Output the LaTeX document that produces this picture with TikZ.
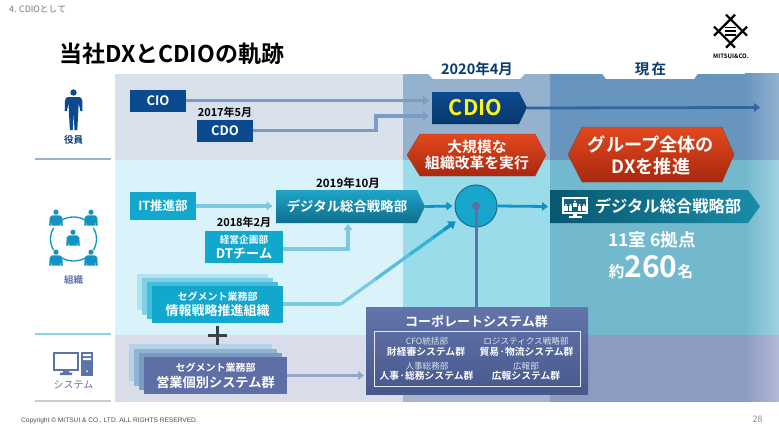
\documentclass[tikz,border=0pt]{standalone}
\usepackage{fontspec}
\setmainfont{Noto Sans CJK JP}[BoldFont={Noto Sans CJK JP Bold}]
\newfontfamily\latinfont{Liberation Sans}
\usetikzlibrary{arrows.meta,calc}
\definecolor{navy}{HTML}{0B4A8F}
\definecolor{cyanbox}{HTML}{12A7CD}
\definecolor{slatebox}{HTML}{5D6FA5}
\definecolor{cioline}{HTML}{7B9CC4}
\definecolor{itline}{HTML}{7CCAE2}
\definecolor{hubline}{HTML}{5B74A8}
\newcommand{\fz}[1]{\fontsize{#1}{#1}\selectfont}
\newcommand{\bx}[7]{\node[boxnode,#6,minimum width={(#4-#2)*1pt},minimum height={(#5-#3)*1pt}] (#1) at ({(#2+#4)/2},{(#3+#5)/2}) {#7};}
\tikzset{
  boxnode/.style={inner sep=0pt,outer sep=0pt,align=center,text=white,font=\bfseries},
  whitetxt/.style={inner sep=0pt,text=white,align=center,font=\bfseries},
  darktxt/.style={inner sep=0pt,text=black,align=center,font=\bfseries},
  flow/.style={line width=3.3pt,-{Triangle[length=6pt,width=9pt]}},
  divider/.style={line width=1.6pt},
  arcline/.style={line width=1.3pt,color=#1},
}
\begin{document}
\begin{tikzpicture}[x=1pt,y=-1pt,line join=miter]
\useasboundingbox (0,0) rectangle (779,436);
\fill[white] (0,0) rectangle (779,436);
% panels
\fill[fill={rgb,255:red,216;green,224;blue,236}] (115,74) rectangle (403,160);
\fill[fill={rgb,255:red,148;green,178;blue,206}] (403,74) rectangle (550,160);
\fill[fill={rgb,255:red,104;green,149;blue,189}] (550,74) rectangle (745,160);
\shade[left color={rgb,255:red,104;green,149;blue,189},right color={rgb,255:red,145;green,178;blue,208}] (745,74) rectangle (779,160);
\fill[fill={rgb,255:red,218;green,243;blue,250}] (115,160) rectangle (403,335);
\fill[fill={rgb,255:red,155;green,220;blue,235}] (403,160) rectangle (550,335);
\fill[fill={rgb,255:red,115;green,185;blue,205}] (550,160) rectangle (745,335);
\shade[left color={rgb,255:red,115;green,185;blue,205},right color={rgb,255:red,160;green,210;blue,225}] (745,160) rectangle (779,335);
\fill[fill={rgb,255:red,216;green,221;blue,233}] (115,335) rectangle (403,401.5);
\fill[fill={rgb,255:red,169;green,179;blue,207}] (403,335) rectangle (550,401.5);
\fill[fill={rgb,255:red,142;green,155;blue,192}] (550,335) rectangle (745,401.5);
\shade[left color={rgb,255:red,142;green,155;blue,192},right color={rgb,255:red,178;green,187;blue,216}] (745,335) rectangle (779,401.5);
% header tabs
\fill[white] (428,73.5) -- (525,73.5) -- (520,79) -- (433,79) -- cycle;
\fill[white] (602,73.5) -- (698,73.5) -- (694,79) -- (606,79) -- cycle;
% dividers
\draw[divider,color={rgb,255:red,159;green,176;blue,205}] (35,159) -- (111,159);
\draw[divider,color={rgb,255:red,143;green,208;blue,227}] (35,334) -- (111,334);
\draw[divider,color={rgb,255:red,200;green,204;blue,212}] (35,401) -- (111,401);
% header texts
\node[inner sep=0pt,anchor=west,text=black!55,font=\fz{8.8}] (sect) at (9,9) {4. CDIOとして};
\node[inner sep=0pt,anchor=west,text=black,font=\fz{23}\bfseries] (title) at (59,54) {当社DXとCDIOの軌跡};
\node[inner sep=0pt,text=navy!80!black,font=\fz{14.5}\bfseries] (d2020) at (477,69) {2020年4月};
\node[inner sep=0pt,text=navy!80!black,font=\fz{14.5}\bfseries] (now) at (650.5,69) {現\,在};
\node[inner sep=0pt,anchor=west,text=black!70,font=\latinfont\fz{6.6}] (copy) at (21,421) {Copyright © MITSUI \& CO., LTD. ALL RIGHTS RESERVED.};
\node[inner sep=0pt,text=black!45,font=\fz{9}] (page) at (757.5,419.5) {28};
% logo
\begin{scope}[line width=2.2pt,black]
\draw (726,14.7) -- (747,35.7) (735,14.7) -- (714,35.7);
\draw (726,47.7) -- (747,26.7) (735,47.7) -- (714,26.7);
\draw[line width=1.7pt] (725,27.6) -- (736,27.6) (725,31.2) -- (736,31.2) (725,34.8) -- (736,34.8);
\end{scope}
\node[inner sep=0pt,text=black,font=\fz{6}\bfseries] (logotxt) at (731,56) {MITSUI\&CO.};
% person icon
\fill[navy] (73.5,92.5) circle (3.2);
\fill[navy] (68,97) -- (79,97) .. controls (81,97) and (82,98.5) .. (82.3,101) -- (82.5,111) -- (80.3,111) -- (78.7,103) -- (78.3,112) -- (77.3,130) -- (74.5,130) -- (73.6,113) -- (72.7,130) -- (69.9,130) -- (68.9,112) -- (68.5,103) -- (66.9,111) -- (64.7,111) -- (65,101) .. controls (65.3,98.5) and (66,97) .. (68,97) -- cycle;
\node[inner sep=0pt,text=navy!80!black,font=\fz{9.5}\bfseries] (lbl1) at (73.5,139.5) {役員};
% group icon
\begin{scope}[color=cyanbox!80!navy]
\draw[arcline=cyanbox!80!navy] (73.5,239) ++(60:23 and 22) arc[start angle=60,end angle=120,x radius=23,y radius=22];
\draw[arcline=cyanbox!80!navy] (73.5,239) ++(240:23 and 22) arc[start angle=240,end angle=300,x radius=23,y radius=22];
\draw[arcline=cyanbox!80!navy] (73.5,239) ++(150:23 and 22) arc[start angle=150,end angle=210,x radius=23,y radius=22];
\draw[arcline=cyanbox!80!navy] (73.5,239) ++(-30:23 and 22) arc[start angle=-30,end angle=30,x radius=23,y radius=22];
\foreach \px/\py in {56/219.5,91/219.5,73/239.5,56/259.5,91/259.5}{
  \fill (\px,\py-7.3) circle (2.6);
  \fill (\px-4,\py-4.2) -- (\px+4,\py-4.2) -- (\px+6.3,\py-2) -- (\px+6.8,\py+6) -- (\px+4.8,\py+6) -- (\px+4.2,\py+1) -- (\px+4,\py+6) -- (\px-4,\py+6) -- (\px-4.2,\py+1) -- (\px-4.8,\py+6) -- (\px-6.8,\py+6) -- (\px-6.3,\py-2) -- cycle;
}
\end{scope}
\node[inner sep=0pt,text=hubline,font=\fz{9.5}\bfseries] (lbl2) at (73.5,279.5) {組織};
% system icon
\draw[line width=1.9pt,hubline] (54,353) rectangle (78,370);
\fill[hubline] (60,375) -- (72,375) -- (72,372.5) -- (69,372.5) -- (69,370) -- (63,370) -- (63,372.5) -- (60,372.5) -- cycle;
\fill[hubline] (81,352) rectangle (93,375.5);
\fill[white] (83,354) rectangle (91,356) (83,358) rectangle (91,360);
\fill[white] (87,371) circle (1);
\node[inner sep=0pt,text=hubline,font=\fz{10}] (lbl3) at (73.5,384.5) {システム};
% officers row
\bx{cio}{130}{89.5}{186}{112}{fill=navy,font=\fz{13}\bfseries}{CIO}
\bx{cdo}{197}{119.5}{253}{142}{fill=navy,font=\fz{13}\bfseries}{CDO}
\node[darktxt,font=\fz{11}\bfseries] (d2017) at (225,112) {2017年5月};
% CDIO
\shade[top color=navy,bottom color=navy!75!black] (432,92) -- (519,92) -- (527,107.5) -- (519,124) -- (432,124) -- cycle;
\bx{cdio}{432}{92}{527}{124}{font=\fz{21.5}\bfseries,text=yellow!90!white}{CDIO\hspace*{8pt}}
\coordinate (cdioend) at (760,107.5);
\coordinate (mergeA) at (376,130.5);
\coordinate (mergeB) at (376,116);
\coordinate (cdioin) at (429,116);
\coordinate (cioin) at (429,100.5);
\draw[flow,cioline] (cio.east) -- (cio.east -| cioin);
\draw[flow,cioline] (cdo.east) -- (cdo.east -| mergeA) -- (mergeB) -- (cdioin);
\draw[line width=2.8pt,-{Triangle[length=6pt,width=8.5pt]},navy!85!white] (cdio.east) -- (cdioend);
% red banners
\shade[top color={rgb,255:red,226;green,72;blue,30},bottom color={rgb,255:red,168;green,40;blue,16},draw={rgb,255:red,150;green,60;blue,40}] (420,134) -- (535,134) -- (546,155) -- (535,176) -- (420,176) -- (407,155) -- cycle;
\node[whitetxt,font=\fz{14.8}\bfseries] (bannerA) at (477,155) {大規模な\\[2pt]組織改革を実行};
\shade[top color={rgb,255:red,226;green,72;blue,30},bottom color={rgb,255:red,168;green,40;blue,16},draw={rgb,255:red,150;green,60;blue,40}] (582,127) -- (722,127) -- (734,154.5) -- (722,182) -- (582,182) -- (568,154.5) -- cycle;
\node[whitetxt,font=\fz{18.2}\bfseries] (bannerB) at (651,155.5) {グループ全体の\\[4pt]DXを推進};
% organisation row
\bx{itdept}{130}{192}{196}{220}{fill=cyanbox,font=\fz{12.5}\bfseries}{IT推進部}
\shade[top color={rgb,255:red,30;green,165;blue,200},bottom color={rgb,255:red,15;green,110;blue,140}] (276,190) -- (417,190) -- (425,206.5) -- (417,223) -- (276,223) -- cycle;
\bx{dsl}{276}{190}{425}{223}{font=\fz{13.4}\bfseries}{デジタル総合戦略部\hspace*{7pt}}
\node[darktxt,font=\fz{11.5}\bfseries] (d2019) at (348,183) {2019年10月};
\bx{dtteam}{205}{231}{283}{263}{fill=cyanbox,font=\fz{9}\bfseries}{{\fz{9.7}経営企画部}\\[2.5pt]{\fz{13.2}DTチーム}}
\node[darktxt,font=\fz{11}\bfseries] (d2018) at (244,222.5) {2018年2月};
\fill[fill={rgb,255:red,180;green,227;blue,240}] (137,273.5) rectangle (268,310);
\fill[fill={rgb,255:red,127;green,208;blue,230}] (142,278) rectangle (273,315);
\fill[fill={rgb,255:red,69;green,188;blue,217}] (147,282) rectangle (278,319);
\bx{joho}{152}{286}{283}{323}{fill=cyanbox}{{\fz{10}セグメント業務部}\\[3pt]{\fz{13}情報戦略推進組織}}
\node[circle,minimum size=42pt,inner sep=0pt,fill={rgb,255:red,24;green,166;blue,204},draw={rgb,255:red,16;green,118;blue,148},line width=1.1pt] (hub) at (476,206) {};
\shade[left color={rgb,255:red,8;green,88;blue,112},right color={rgb,255:red,26;green,140;blue,168}] (550,190) -- (748,190) -- (760,206.5) -- (748,223) -- (550,223) -- cycle;
\bx{dsr}{550}{190}{760}{223}{font=\fz{16.3}\bfseries,anchor=center}{\hspace*{26pt}デジタル総合戦略部}
% presentation icon
\fill[white] (562,197) rectangle (587.5,213.5);
\fill[fill={rgb,255:red,14;green,100;blue,124}] (563.5,198.5) rectangle (586,212);
\foreach \qx/\qy in {566/205,570.5/205,575/201.5,579.5/205,584/205}{
  \fill[white] (\qx,\qy) circle (1.1);
  \fill[white] (\qx-1.9,\qy+1.4) rectangle (\qx+1.9,\qy+5.5);
}
\fill[white] (572.7,213.5) rectangle (577.3,216);
\fill[white] (568.5,216) rectangle (581.5,218);
% right figures
\node[whitetxt,font=\fz{17.5}\bfseries] (rooms) at (652,240) {11室 6拠点};
\node[whitetxt,font=\fz{15.5}\bfseries] (staff) at (651,267) {約{\fz{30}260}名};
% system row
\fill[fill={rgb,255:red,181;green,211;blue,230}] (129,344) rectangle (272,381);
\fill[fill={rgb,255:red,143;green,181;blue,213}] (134,348.5) rectangle (277,385.5);
\fill[fill={rgb,255:red,123;green,154;blue,196}] (139,353) rectangle (282,390);
\bx{seg}{144}{357}{287}{394}{fill=slatebox}{{\fz{10}セグメント業務部}\\[3pt]{\fz{13.2}営業個別システム群}}
\draw[line width=3pt,color={rgb,255:red,58;green,63;blue,69}] (207.5,335) -- (227,335) (217,326) -- (217,345);
% corporate box
\shade[top color={rgb,255:red,98;green,116;blue,170},bottom color={rgb,255:red,70;green,88;blue,140}] (366,307) rectangle (588,394);
\bx{corp}{366}{307}{588}{394}{}{}
\node[whitetxt,font=\fz{13}\bfseries] (corptitle) at (476.5,321) {コーポレートシステム群};
\draw[white!85!hubline,line width=0.8pt] (374,331.5) rectangle (580,386);
\foreach \nm/\cx/\cy/\txt in {a/427/341/CFO統括部,b/526/341/ロジスティクス戦略部,c/427/366/人事総務部,d/526/366/広報部}{
  \node[inner sep=0pt,text=white!80!hubline,font=\fz{8.6}] (sub\nm) at (\cx,\cy) {\txt};
}
\foreach \nm/\cx/\cy/\txt in {e/426/351.5/財経審システム群,f/526.5/351.5/貿易·物流システム群,g/426.5/376/人事·総務システム群,h/526/376/広報システム群}{
  \node[whitetxt,font=\fz{9.8}\bfseries] (sub\nm) at (\cx,\cy) {\txt};
}
% connectors
\coordinate (itin) at (272.5,206);
\draw[flow,itline] (itdept.east) -- (itin);
\coordinate (dtbend) at (348,249);
\draw[flow,itline] (dtteam.east |- dtbend) -- (dtbend) -- (348,224);
\coordinate (johobend) at (341,304);
\coordinate (hubtip) at ($(hub.center)!1.18!(hub.217)$);
\draw[line width=3.3pt,itline] (joho.east |- johobend) -- (johobend);
\foreach \a/\b/\c in {0/0.3/0,0.3/0.6/35,0.6/0.8/65,0.8/0.95/90}{
  \draw[line width=3.3pt,color=cyanbox!\c!itline] ($(johobend)!\a!(hubtip)$) -- ($(johobend)!\b!(hubtip)$);
}
\draw[line width=3.3pt,-{Triangle[length=7pt,width=9.5pt]},color=cyanbox!75!navy] ($(johobend)!0.9!(hubtip)$) -- (hubtip);
\draw[line width=2.8pt,-{Triangle[length=6pt,width=8.5pt]},color=cyanbox!80!navy] (dsl.east) -- ($(hub.west)+(-2,0)$);
\draw[line width=2.8pt,-{Triangle[length=6pt,width=8.5pt]},color=cyanbox!80!navy] (hub.east) -- ($(dsr.west)+(-2,0)$);
\draw[line width=3pt,hubline] (corp.north -| hub.center) -- (hub.center);
\fill[fill={rgb,255:red,100;green,105;blue,165}] (hub.center) circle (4);
\draw[line width=3pt,-{Triangle[length=6pt,width=9pt]},color={rgb,255:red,150;green,165;blue,200}] (seg.east) -- ($(seg.east -| corp.west)+(-2,0)$);
\end{tikzpicture}
\end{document}
